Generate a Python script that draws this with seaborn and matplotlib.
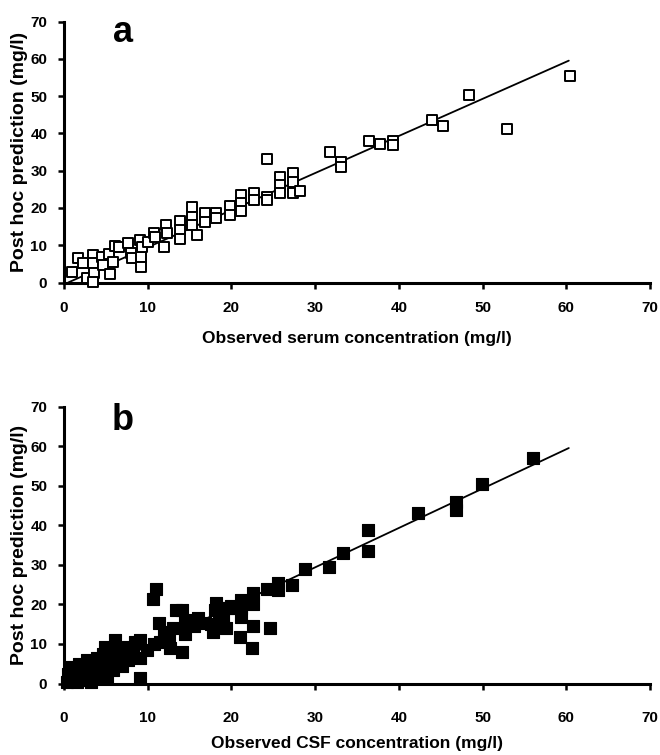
import matplotlib
matplotlib.use("Agg")
import matplotlib.pyplot as plt
import seaborn as sns

sns.set_theme(style="ticks")
plt.rcParams['font.family'] = ['Liberation Sans', 'DejaVu Sans']
plt.rcParams['font.weight'] = 'bold'
plt.rcParams['text.color'] = 'black'
plt.rcParams['axes.labelcolor'] = 'black'

# panel a: serum, observed vs post hoc prediction (mg/l)
serum_obs = [0.9, 1.7, 2.3, 2.7, 3.5, 3.5, 3.6, 3.5, 4.5, 4.7, 5.4, 5.5, 5.9, 6.1, 6.6,
             7.7, 8.0, 8.1, 9.1, 9.2, 9.2, 9.3, 10.0, 10.8, 10.9, 11.9, 12.2, 12.3, 13.8,
             13.8, 13.9, 15.3, 15.3, 15.3, 15.9, 16.8, 16.8, 18.2, 18.2, 19.8, 19.8, 21.2,
             21.2, 21.2, 22.7, 22.7, 24.2, 24.2, 24.2, 25.8, 25.8, 25.8, 27.3, 27.3, 27.3,
             28.2, 31.8, 33.1, 33.1, 36.4, 37.8, 39.3, 39.3, 43.9, 45.3, 48.4, 52.9, 60.5]
serum_pred = [2.9, 6.5, 5.1, 1.1, 7.4, 5.1, 2.5, 0.2, 6.9, 4.7, 7.6, 2.3, 5.6, 9.8, 9.6,
              10.5, 7.8, 6.5, 11.4, 6.9, 4.2, 9.6, 10.9, 13.2, 12.1, 9.6, 15.4, 13.2, 16.6,
              14.1, 11.6, 20.3, 17.5, 15.4, 12.7, 18.6, 16.3, 18.6, 17.2, 20.5, 18.1, 23.5,
              21.2, 19.2, 23.9, 22.1, 33.0, 23.0, 22.0, 28.4, 26.1, 24.1, 29.4, 27.0, 24.1,
              24.6, 34.9, 32.4, 30.9, 38.0, 37.1, 38.0, 36.9, 43.6, 42.0, 50.3, 41.2, 55.5]

# panel b: CSF, observed vs post hoc prediction (mg/l)
csf_obs = [0.3, 0.5, 0.8, 1.0, 1.3, 1.5, 1.8, 2.0, 2.3, 2.5, 2.8, 3.0, 3.2, 3.5, 3.7,
           3.9, 4.2, 4.4, 4.7, 4.9, 5.1, 5.3, 5.6, 5.8, 6.1, 6.3, 6.6, 6.9, 7.2, 7.7,
           7.6, 8.2, 8.5, 9.1, 9.1, 9.1, 9.9, 10.7, 11.0, 10.6, 11.4, 11.5, 12.0, 12.5,
           12.7, 13.0, 13.4, 14.1, 14.1, 14.5, 14.5, 15.3, 15.5, 16.0, 16.9, 17.5, 17.8,
           18.0, 18.2, 18.5, 19.0, 19.0, 19.3, 19.6, 19.7, 20.0, 21.0, 21.1, 21.1, 21.1,
           22.5, 22.6, 22.6, 22.6, 24.2, 24.6, 25.6, 25.6, 27.2, 28.8, 31.7, 33.3, 36.3,
           36.3, 42.3, 46.8, 46.8, 49.9, 56.0]
csf_pred = [0.5, 2.5, 4.2, 1.0, 3.0, 0.3, 5.0, 2.0, 0.8, 4.0, 6.0, 2.8, 0.5, 5.0, 3.0,
            6.5, 1.5, 4.5, 7.5, 9.3, 1.3, 5.5, 8.0, 3.5, 11.0, 6.5, 9.0, 4.5, 7.5, 9.3,
            5.9, 8.0, 10.5, 11.0, 6.4, 1.3, 8.5, 10.1, 24.0, 21.3, 15.2, 10.5, 13.0, 12.0,
            8.9, 14.0, 18.6, 18.6, 8.0, 15.5, 12.5, 16.0, 14.5, 16.5, 15.2, 15.0, 13.1,
            18.5, 20.3, 16.5, 17.0, 14.3, 13.9, 19.0, 19.0, 19.5, 11.8, 21.1, 19.0, 16.9,
            9.0, 22.8, 20.2, 14.5, 24.0, 13.9, 25.3, 23.6, 24.9, 28.9, 29.5, 32.9, 38.7,
            33.5, 43.0, 45.9, 43.8, 50.4, 56.9]

# line of agreement drawn in both panels
line_x = [0.5, 60.3]
line_y = [0.0, 59.5]

ticks = [0, 10, 20, 30, 40, 50, 60, 70]

fig = plt.figure(figsize=(6.6, 7.55), dpi=100)
ax1 = fig.add_axes([64 / 660, 1 - 282.5 / 755, 586 / 660, 261 / 755])
ax2 = fig.add_axes([64 / 660, 1 - 683.5 / 755, 586 / 660, 277 / 755])


def style_axes(ax, xlabel, letter, letter_y, xpad, xlabelpad):
    ax.set_xlim(0, 70)
    ax.set_ylim(0, 70)
    ax.set_xticks(ticks)
    ax.set_yticks(ticks)
    sns.despine(ax=ax)
    for side in ["left", "bottom"]:
        ax.spines[side].set_linewidth(2.2)
        ax.spines[side].set_color("black")
    ax.tick_params(axis="both", direction="out", length=4, width=1.8,
                   labelsize=11, colors="black")
    ax.tick_params(axis="x", pad=xpad)
    ax.tick_params(axis="y", pad=8)
    for lab in ax.get_xticklabels() + ax.get_yticklabels():
        lab.set_fontweight("bold")
    ax.set_xlabel(xlabel, fontsize=12.5, fontweight="bold", labelpad=xlabelpad)
    ax.set_ylabel("Post hoc prediction (mg/l)", fontsize=14, fontweight="bold", labelpad=2)
    ax.text(7.0, letter_y, letter, fontsize=26, fontweight="bold", color="black",
            ha="center", va="baseline")


sns.lineplot(x=line_x, y=line_y, ax=ax1, color="black", lw=1.3)
sns.scatterplot(x=serum_obs, y=serum_pred, ax=ax1, marker="s", s=60,
                facecolor="white", edgecolor="black", linewidth=1.4, clip_on=False, zorder=3)
style_axes(ax1, "Observed serum concentration (mg/l)", "a", 64.6, 9, 12)

sns.lineplot(x=line_x, y=line_y, ax=ax2, color="black", lw=1.3)
sns.scatterplot(x=csf_obs, y=csf_pred, ax=ax2, marker="s", s=85,
                color="black", edgecolor="black", linewidth=0.8, clip_on=False, zorder=3)
style_axes(ax2, "Observed CSF concentration (mg/l)", "b", 64.0, 16, 8)

fig.savefig("out.png", dpi=100)
